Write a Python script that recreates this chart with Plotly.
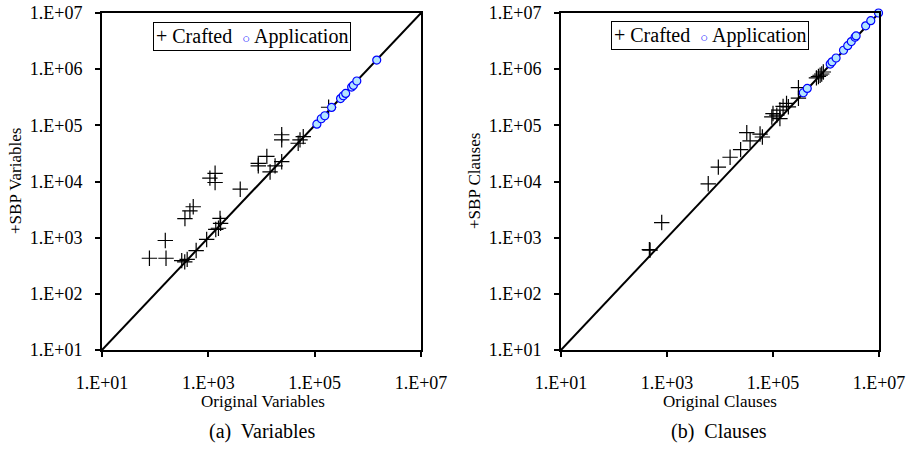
import plotly.graph_objects as go

W, H = 913, 452

# ---------------- data ----------------
var_crafted_x = [78, 160, 155, 316, 400, 360, 590, 930, 363, 450, 520, 1550, 1660, 1380, 1700,
                 1070, 1340, 1340, 3980, 14500, 8700, 8700, 12600, 24000, 18000, 24000, 24000,
                 53000, 61000, 49000, 183000]
var_crafted_y = [430, 430, 890, 390, 410, 370, 590, 930, 2190, 3000, 3550, 1470, 2200, 1400, 1800,
                 11500, 14000, 9600, 7300, 14800, 21000, 19000, 28000, 22500, 19000, 68000, 55000,
                 55000, 63000, 48000, 210000]
var_app_x = [110000, 133000, 155000, 208000, 307000, 345000, 383000, 496000, 535000, 620000, 1470000]
var_app_y = [105000, 131000, 148000, 208000, 300000, 336000, 370000, 480000, 515000, 615000, 1450000]

cla_crafted_x = [465, 480, 795, 6000, 9300, 15500, 24500, 32000, 37000, 57000, 63000, 95000,
                 100000, 118000, 135000, 155000, 180000, 195000, 135000, 302000, 302000, 660000,
                 775000, 890000, 720000, 830000]
cla_crafted_y = [610, 600, 1860, 9100, 18000, 27000, 37000, 74000, 53000, 70000, 62000, 141000,
                 162000, 152000, 187000, 217000, 246000, 214000, 132000, 470000, 304000, 700000,
                 780000, 890000, 740000, 820000]
cla_app_x = [373000, 443000, 1200000, 1300000, 1550000, 2140000, 2570000, 3000000, 3530000,
             3700000, 5600000, 7000000, 9800000]
cla_app_y = [380000, 455000, 1230000, 1350000, 1580000, 2170000, 2620000, 3100000, 3700000,
             3900000, 5900000, 7300000, 10000000]

diag = [1e1, 1e7]
y_tickvals = [1e1, 1e2, 1e3, 1e4, 1e5, 1e6, 1e7]
y_ticktext = ["1.E+01", "1.E+02", "1.E+03", "1.E+04", "1.E+05", "1.E+06", "1.E+07"]
x_tickvals = [1e1, 1e3, 1e5, 1e7]
x_ticktext = ["1.E+01", "1.E+03", "1.E+05", "1.E+07"]
series_names = ["Crafted", "Application"]

FONT = "Liberation Serif, Times New Roman, Times, serif"

crafted_marker = dict(symbol="cross-thin", size=11, line=dict(color="black", width=1.2), color="black")
app_marker = dict(symbol="circle", size=8, color="#b3e5ff", line=dict(color="#0000ff", width=1.2))

fig = go.Figure()

# left panel
fig.add_trace(go.Scatter(x=diag, y=diag, mode="lines", line=dict(color="black", width=2),
                         showlegend=False, xaxis="x", yaxis="y", hoverinfo="skip"))
fig.add_trace(go.Scatter(x=var_crafted_x, y=var_crafted_y, mode="markers", name=series_names[0],
                         marker=crafted_marker, xaxis="x", yaxis="y", showlegend=False))
fig.add_trace(go.Scatter(x=var_app_x, y=var_app_y, mode="markers", name=series_names[1],
                         marker=app_marker, xaxis="x", yaxis="y", showlegend=False))
# right panel
fig.add_trace(go.Scatter(x=diag, y=diag, mode="lines", line=dict(color="black", width=2),
                         showlegend=False, xaxis="x2", yaxis="y2", hoverinfo="skip"))
fig.add_trace(go.Scatter(x=cla_crafted_x, y=cla_crafted_y, mode="markers", name=series_names[0],
                         marker=crafted_marker, xaxis="x2", yaxis="y2", showlegend=False))
fig.add_trace(go.Scatter(x=cla_app_x, y=cla_app_y, mode="markers", name=series_names[1],
                         marker=app_marker, xaxis="x2", yaxis="y2", showlegend=False,
                         cliponaxis=False))

def px_x(p):
    return p / W

def px_y(p):
    return 1 - p / H

ydom = [px_y(350), px_y(13)]
axis_common = dict(type="log", range=[1, 7], showline=True, linecolor="black", linewidth=2,
                   mirror=True, ticks="outside", ticklen=5, tickwidth=1.5, tickcolor="black",
                   showgrid=False, zeroline=False, automargin=False, ticklabeloverflow="allow",
                   tickfont=dict(family=FONT, size=18, color="black"))

fig.update_layout(
    template="none",
    width=W, height=H,
    margin=dict(l=0, r=0, t=0, b=0, autoexpand=False),
    paper_bgcolor="white", plot_bgcolor="white",
    showlegend=False,
    xaxis=dict(domain=[px_x(102), px_x(421)], anchor="y", tickvals=x_tickvals,
               ticktext=x_ticktext, ticklabelstandoff=10, **axis_common),
    yaxis=dict(domain=ydom, anchor="x", tickvals=y_tickvals, ticktext=y_ticktext,
               ticklabelstandoff=9, **axis_common),
    xaxis2=dict(domain=[px_x(561), px_x(879)], anchor="y2", tickvals=x_tickvals,
                ticktext=x_ticktext, ticklabelstandoff=10, **axis_common),
    yaxis2=dict(domain=ydom, anchor="x2", tickvals=y_tickvals, ticktext=y_ticktext,
                ticklabelstandoff=9, **axis_common),
)

ann_font = dict(family=FONT, size=17, color="black")
cap_font = dict(family=FONT, size=20, color="black")
leg_font = dict(family=FONT, size=20, color="black")
legend_text = ("+ " + series_names[0]
               + "\u00a0 <span style='color:#0000ff;font-size:13px'>\u25cb</span> "
               + series_names[1])
annotations = [
    dict(text="+SBP Variables", x=px_x(15), y=px_y(181), textangle=-90, font=ann_font),
    dict(text="+SBP Clauses", x=px_x(474), y=px_y(181), textangle=-90, font=ann_font),
    dict(text="Original Variables", x=px_x(263), y=px_y(401), font=ann_font),
    dict(text="Original Clauses", x=px_x(720), y=px_y(401), font=ann_font),
    dict(text="(a)  Variables", x=px_x(262), y=px_y(431), font=cap_font),
    dict(text="(b)  Clauses", x=px_x(719), y=px_y(431), font=cap_font),
    dict(text=legend_text, x=px_x(251.5), y=px_y(37), font=leg_font, bordercolor="black",
         borderwidth=1, borderpad=2, bgcolor="white"),
    dict(text=legend_text, x=px_x(709.5), y=px_y(35.5), font=leg_font, bordercolor="black",
         borderwidth=1, borderpad=2, bgcolor="white"),
]
for a in annotations:
    a.update(xref="paper", yref="paper", showarrow=False, xanchor="center", yanchor="middle")
fig.update_layout(annotations=annotations)

fig.write_html("out.html", config={"displayModeBar": False},
               post_script="document.body.style.margin='0';")
